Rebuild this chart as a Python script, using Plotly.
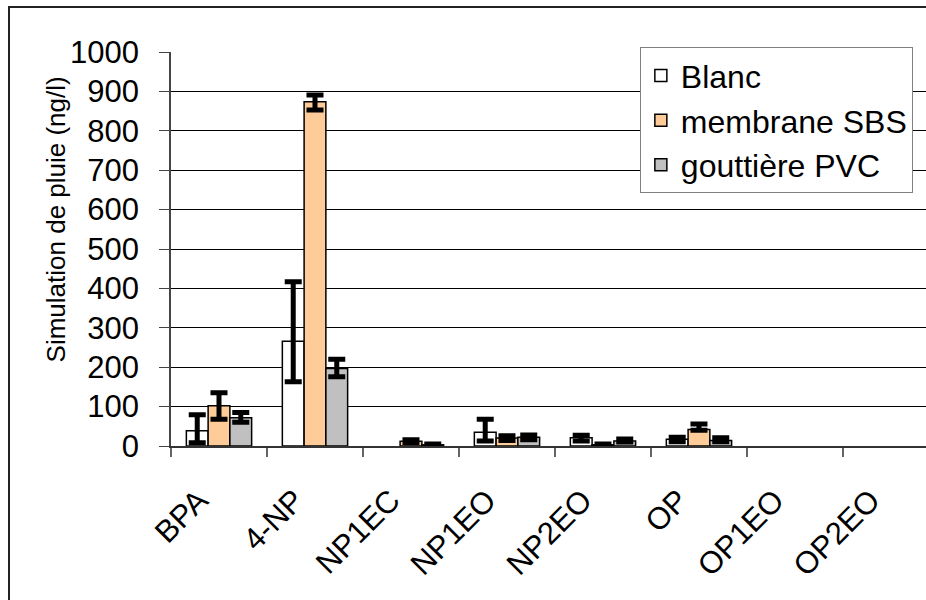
import plotly.graph_objects as go

# Composés analysés
categories = ["BPA", "4-NP", "NP1EC", "NP1EO", "NP2EO", "OP", "OP1EO", "OP2EO"]

# Concentrations moyennes (ng/l) et écarts (haut / bas)
blanc = [39, 266, None, 35, 21, 17, None, None]
blanc_hi = [40, 151, 0, 33, 6, 5, 0, 0]
blanc_lo = [31, 103, 0, 22, 8, 6, 0, 0]

sbs = [102, 874, 12, 20, 3, 42, None, None]
sbs_hi = [33, 17, 4, 6, 2, 14, 0, 0]
sbs_lo = [34, 21, 4, 6, 2, 2, 0, 0]

pvc = [72, 197, 3, 22, 13, 14, None, None]
pvc_hi = [13, 23, 2, 6, 5, 7, 0, 0]
pvc_lo = [12, 21, 2, 6, 3, 3, 0, 0]

series_names = ["Blanc", "membrane SBS", "gouttière PVC"]
y_ticks = [0, 100, 200, 300, 400, 500, 600, 700, 800, 900, 1000]

FONT = "Liberation Sans, Arial, sans-serif"


def err(hi, lo):
    return dict(type="data", array=hi, arrayminus=lo, symmetric=False,
                color="black", thickness=5, width=8.5)


fig = go.Figure()
fig.add_trace(go.Bar(x=categories, y=blanc, name=series_names[0],
                     marker=dict(color="white", line=dict(color="black", width=1.5)),
                     error_y=err(blanc_hi, blanc_lo)))
fig.add_trace(go.Bar(x=categories, y=sbs, name=series_names[1],
                     marker=dict(color="#FFCC99", line=dict(color="black", width=1.5)),
                     error_y=err(sbs_hi, sbs_lo)))
fig.add_trace(go.Bar(x=categories, y=pvc, name=series_names[2],
                     marker=dict(color="#C0C0C0", line=dict(color="black", width=1.5)),
                     error_y=err(pvc_hi, pvc_lo)))

fig.update_layout(
    width=926, height=600,
    margin=dict(l=171, r=0, t=52, b=154),
    paper_bgcolor="white", plot_bgcolor="white",
    font=dict(family=FONT, size=31, color="black"),
    barmode="group", bargap=0.32, bargroupgap=0,
    showlegend=True,
    legend=dict(x=0.621, y=1.012, xanchor="left", yanchor="top",
                bgcolor="white", bordercolor="#808080", borderwidth=1,
                font=dict(family=FONT, size=32, color="black"),
                itemclick=False, itemdoubleclick=False),
    xaxis=dict(
        type="category", range=[-0.5, 7.365],
        showline=True, linecolor="#333333", linewidth=1.5,
        ticks="outside", tickson="boundaries", ticklen=9, tickcolor="#666666",
        tickwidth=1.5, tickangle=-45, showgrid=False,
        tickfont=dict(family=FONT, size=31, color="black"),
        ticklabelstandoff=22, ticklabelshift=-20,
    ),
    yaxis=dict(
        range=[0, 1000], tickvals=y_ticks,
        showline=True, linecolor="#444444", linewidth=1.5,
        ticks="outside", ticklen=10, tickcolor="#444444", tickwidth=1,
        showgrid=True, gridcolor="black", gridwidth=1,
        zeroline=False,
        tickfont=dict(family=FONT, size=31, color="black"),
        ticklabelstandoff=14,
    ),
    annotations=[dict(
        text="Simulation de pluie (ng/l)", textangle=-90,
        xref="paper", yref="paper", x=(56 - 171) / 755, y=0.575,
        xanchor="center", yanchor="middle", showarrow=False,
        font=dict(family=FONT, size=26, color="black"),
    )],
    shapes=[dict(
        type="rect", xref="paper", yref="paper",
        x0=(9 - 171) / 755, x1=1.2, y0=-0.6, y1=(446 - 7) / 394,
        line=dict(color="#222222", width=2), fillcolor="rgba(0,0,0,0)",
        layer="below",
    )],
)

fig.write_html("out.html", config={"displayModeBar": False})
